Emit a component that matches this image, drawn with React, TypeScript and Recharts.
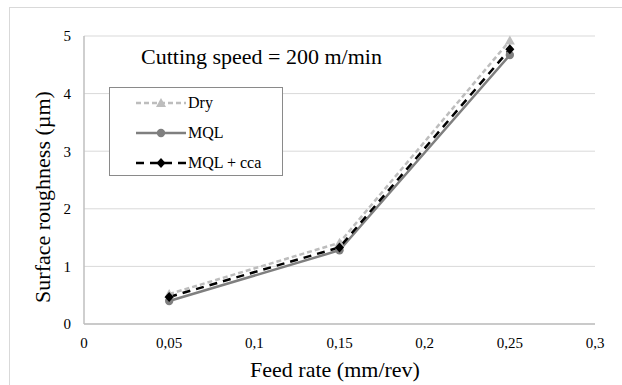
import React from 'react';
import { LineChart, Line, XAxis, YAxis, CartesianGrid, Customized } from 'recharts';

const feedRates = [0.05, 0.15, 0.25];
const dryValues = [0.52, 1.41, 4.92];
const mqlValues = [0.4, 1.28, 4.67];
const mqlCcaValues = [0.47, 1.33, 4.77];
const xTicks = [0, 0.05, 0.1, 0.15, 0.2, 0.25, 0.3];
const yTicks = [0, 1, 2, 3, 4, 5];

const data = feedRates.map((f, i) => ({
  feed: f,
  dry: dryValues[i],
  mql: mqlValues[i],
  cca: mqlCcaValues[i],
}));

const FONT = "'Liberation Serif', 'DejaVu Serif', serif";

type Marker = 'triangle' | 'circle' | 'diamond';

const drawMarker = (kind: Marker, cx: number, cy: number, color: string, key?: string) => {
  if (kind === 'triangle') {
    return <polygon key={key} points={`${cx},${cy - 5} ${cx + 5},${cy + 4} ${cx - 5},${cy + 4}`} fill={color} />;
  }
  if (kind === 'circle') {
    return <circle key={key} cx={cx} cy={cy} r={4.2} fill={color} />;
  }
  return <polygon key={key} points={`${cx},${cy - 5} ${cx + 4.5},${cy} ${cx},${cy + 5} ${cx - 4.5},${cy}`} fill={color} />;
};

const series = [
  { key: 'dry', name: 'Dry', color: '#bdbdbd', dash: '5 3', marker: 'triangle' as Marker },
  { key: 'mql', name: 'MQL', color: '#7f7f7f', dash: undefined, marker: 'circle' as Marker },
  { key: 'cca', name: 'MQL + cca', color: '#000000', dash: '8 6', marker: 'diamond' as Marker },
];

const LegendBox = () => (
  <div
    style={{
      position: 'absolute',
      left: 109,
      top: 87,
      width: 174,
      height: 89,
      boxSizing: 'border-box',
      border: '1.5px solid #8a8a8a',
      background: '#fff',
      fontFamily: FONT,
      fontSize: 16,
      color: '#000',
    }}
  >
    {series.map((s, i) => (
      <div key={s.key} style={{ position: 'absolute', left: 25, top: i * 30 + 3, height: 24, display: 'flex', alignItems: 'center' }}>
        <svg width={52} height={24}>
          <line x1={1} y1={12} x2={51} y2={12} stroke={s.color} strokeWidth={2.5} strokeDasharray={s.dash} />
          {drawMarker(s.marker, 26, 12, s.color)}
        </svg>
        <span style={{ marginLeft: 1, whiteSpace: 'nowrap' }}>{s.name}</span>
      </div>
    ))}
  </div>
);

const Title = () => (
  <text x={141} y={64} style={{ fontFamily: FONT }} fontSize={22} fill="#000">
    Cutting speed = 200 m/min
  </text>
);

export default function App() {
  return (
    <div style={{ position: 'absolute', left: 0, top: 0, width: 622, height: 385, overflow: 'hidden', background: '#fff', fontFamily: FONT }}>
      <div
        style={{
          position: 'absolute',
          left: 9,
          top: 7,
          width: 700,
          height: 500,
          border: '1px solid #d9d9d9',
        }}
      />
      <LineChart
        width={622}
        height={385}
        data={data}
        margin={{ top: 36, right: 27, bottom: 0, left: 0 }}
        style={{ position: 'absolute', left: 0, top: 0, fontFamily: FONT }}
      >
        <CartesianGrid horizontal vertical={false} stroke="#d9d9d9" strokeWidth={1} />
        <XAxis
          dataKey="feed"
          type="number"
          domain={[0, 0.3]}
          ticks={xTicks}
          height={61}
          tickLine={false}
          tickSize={0}
          tickMargin={13}
          axisLine={{ stroke: '#bfbfbf', strokeWidth: 1.5 }}
          tick={{ fill: '#000', fontSize: 15, style: { fontFamily: FONT } }}
          tickFormatter={(v: number) => String(v).replace('.', ',')}
          interval={0}
          label={{
            content: () => (
              <text x={335} y={377} textAnchor="middle" style={{ fontFamily: FONT }} fontSize={22} fill="#000">
                Feed rate (mm/rev)
              </text>
            ),
          }}
        />
        <YAxis
          type="number"
          domain={[0, 5]}
          ticks={yTicks}
          width={84}
          tickLine={false}
          tickSize={0}
          tickMargin={13}
          axisLine={{ stroke: '#bfbfbf', strokeWidth: 1.5 }}
          tick={{ fill: '#000', fontSize: 15, style: { fontFamily: FONT } }}
          interval={0}
          label={{
            content: () => (
              <text
                x={50}
                y={197}
                transform="rotate(-90 50 197)"
                textAnchor="middle"
                style={{ fontFamily: FONT }}
                fontSize={22}
                fill="#000"
              >
                Surface roughness (µm)
              </text>
            ),
          }}
        />
        {series.map((s) => (
          <Line
            key={s.key}
            dataKey={s.key}
            name={s.name}
            type="linear"
            stroke={s.color}
            strokeWidth={2.5}
            strokeDasharray={s.dash}
            dot={(p: any) => drawMarker(s.marker, p.cx, p.cy, s.color, `${s.key}-${p.index}`)}
            activeDot={false}
            isAnimationActive={false}
          />
        ))}
        <Customized component={Title} />
      </LineChart>
      <LegendBox />
    </div>
  );
}
